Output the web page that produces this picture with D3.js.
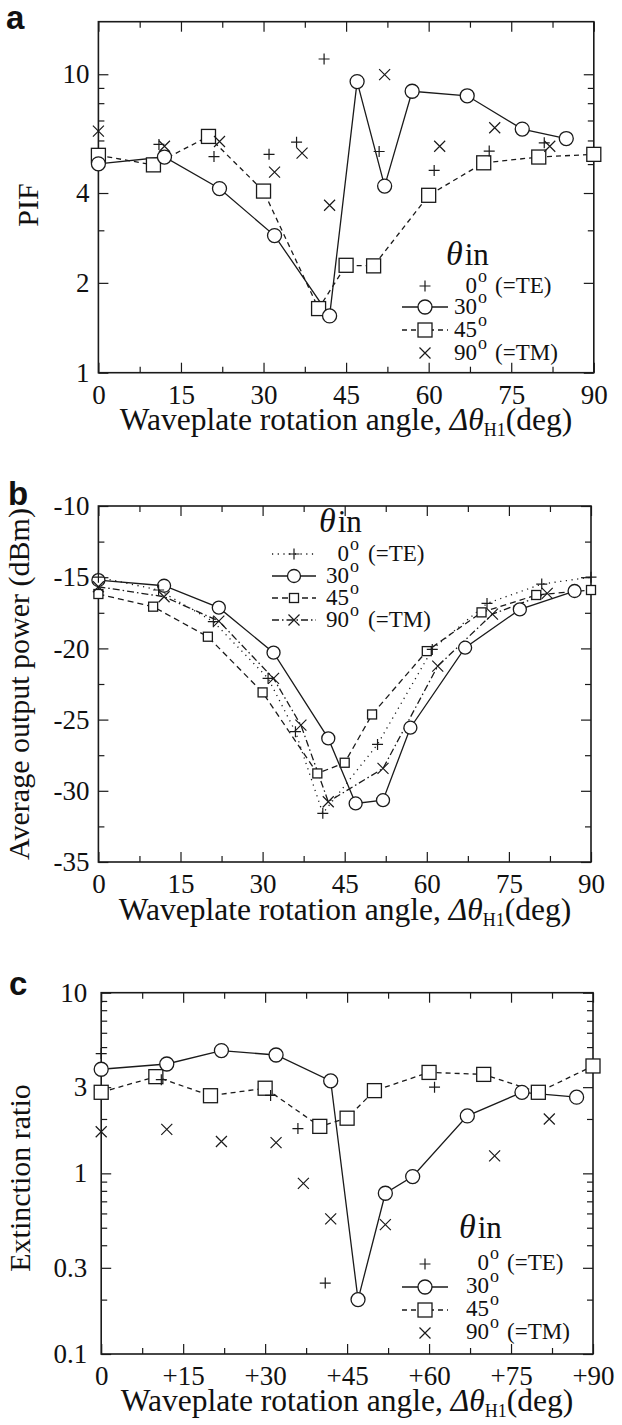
<!DOCTYPE html>
<html><head><meta charset="utf-8">
<script src="https://cdn.jsdelivr.net/npm/d3@7"></script>
<style>
body{margin:0;background:#fff}
svg text{font-family:"Liberation Serif","Times New Roman",serif;fill:#111}
</style>
</head><body><script>
// ---------- DATA ----------
const xMajor = [0,15,30,45,60,75,90];
const xMinor = [7.5,22.5,37.5,52.5,67.5,82.5];
const xLabelsAB = ["0","15","30","45","60","75","90"];
const xLabelsC = ["0","+15","+30","+45","+60","+75","+90"];

const aYMajor = [1,2,4,10];
const aYMinor = [3,5,6,7,8,9];
const aYLabels = ["1","2","4","10"];
const bYMajor = [-35,-30,-25,-20,-15,-10];
const bYMinor = [-32.5,-27.5,-22.5,-17.5,-12.5];
const bYLabels = ["-35","-30","-25","-20","-15","-10"];
const cYMajor = [0.1,0.3,1,3,10];
const cYMinor = [0.2,0.4,0.5,0.6,0.7,0.8,0.9,2,4,5,6,7,8,9];
const cYLabels = ["0.1","0.3","1","3","10"];

const legendNames = ["0","30","45","90"];
const legendSuffix = ["(=TE)","","","(=TM)"];

// Panel a: PIF
const aTE_deg = [11,21,31,36,41,51,61,71,81];
const aTE_val = [5.82,5.30,5.39,5.92,11.25,5.51,4.76,5.53,5.89];
const a30_deg = [0,12,22,32,42,47,52,57,67,77,85];
const a30_val = [5.01,5.28,4.14,2.88,1.55,9.45,4.22,8.77,8.47,6.55,6.09];
const a45_deg = [0,10,20,30,40,45,50,60,70,80,90];
const a45_val = [5.35,4.97,6.19,4.06,1.64,2.29,2.28,3.93,5.05,5.28,5.39];
const aTM_deg = [0,12,22,32,37,42,52,62,72,82];
const aTM_val = [6.45,5.74,5.95,4.70,5.44,3.64,9.97,5.74,6.62,5.74];

// Panel b: average output power (dBm)
const bTE_deg = [0,11,21,31,36,41,51,61,71,81,90];
const bTE_val = [-15.0,-15.9,-18.12,-22.1,-25.85,-31.58,-26.74,-20.07,-16.84,-15.48,-15.0];
const b30_deg = [0,12,22,32,42,47,52,57,67,77,87];
const b30_val = [-15.2,-15.6,-17.14,-20.3,-26.32,-30.89,-30.66,-25.57,-19.95,-17.26,-15.97];
const b45_deg = [0,10,20,30,40,45,50,60,70,80,90];
const b45_val = [-16.18,-17.07,-19.18,-23.09,-28.78,-28.03,-24.64,-20.19,-17.47,-16.25,-15.9];
const bTM_deg = [0,12,22,32,37,42,52,62,72,82];
const bTM_val = [-15.67,-16.37,-18.08,-22.11,-25.39,-30.77,-28.43,-21.24,-17.59,-16.14];

// Panel c: extinction ratio
const cTE_deg = [0,11,31,36,41,61];
const cTE_val = [4.6,3.3,2.70,1.77,0.247,3.0];
const c30_deg = [0,12,22,32,42,47,52,57,67,77,87];
const c30_val = [3.77,4.03,4.78,4.52,3.25,0.20,0.776,0.96,2.08,2.81,2.64];
const c45_deg = [0,10,20,30,40,45,50,60,70,80,90];
const c45_val = [2.81,3.43,2.69,2.96,1.82,2.02,2.87,3.62,3.53,2.81,3.93];
const cTM_deg = [0,12,22,32,37,42,52,72,82];
const cTM_val = [1.70,1.75,1.50,1.48,0.88,0.56,0.52,1.25,2.0];

// ---------- DRAWING ----------
const W = 622, H = 1425;
const svg = d3.select("body").append("svg").attr("width", W).attr("height", H);
const INK = "#1a1a1a";

function plusPath(cx, cy, s){ return `M${cx-s},${cy}H${cx+s}M${cx},${cy-s}V${cy+s}`; }
function crossPath(cx, cy, s){ return `M${cx-s},${cy-s}L${cx+s},${cy+s}M${cx-s},${cy+s}L${cx+s},${cy-s}`; }

function drawAxes(g, x, y, o){
  const [x0,x1] = x.range(), [y0,y1] = y.range();
  const style = sel => sel.call(s=>s.select(".domain").remove())
    .attr("font-size", 27).attr("font-family", '"Liberation Serif","Times New Roman",serif')
    .attr("color", INK).selectAll("line").attr("stroke-width", 1.2);
  g.append("g").attr("transform",`translate(0,${y0})`)
    .call(d3.axisBottom(x).tickValues(xMajor).tickFormat((d,i)=>o.xLabels[i]).tickSizeInner(-10).tickSizeOuter(0).tickPadding(12)).call(style);
  g.append("g").attr("transform",`translate(0,${y0})`)
    .call(d3.axisBottom(x).tickValues(xMinor).tickFormat("").tickSizeInner(-6).tickSizeOuter(0)).call(style);
  g.append("g").attr("transform",`translate(0,${y1})`)
    .call(d3.axisTop(x).tickValues(xMajor).tickFormat("").tickSizeInner(-10).tickSizeOuter(0)).call(style);
  g.append("g").attr("transform",`translate(0,${y1})`)
    .call(d3.axisTop(x).tickValues(xMinor).tickFormat("").tickSizeInner(-6).tickSizeOuter(0)).call(style);
  g.append("g").attr("transform",`translate(${x0},0)`)
    .call(d3.axisLeft(y).tickValues(o.yMajor).tickFormat((d,i)=>o.yLabels[i]).tickSizeInner(-10).tickSizeOuter(0).tickPadding(o.yPad)).call(style);
  g.append("g").attr("transform",`translate(${x0},0)`)
    .call(d3.axisLeft(y).tickValues(o.yMinor).tickFormat("").tickSizeInner(-6).tickSizeOuter(0)).call(style);
  g.append("g").attr("transform",`translate(${x1},0)`)
    .call(d3.axisRight(y).tickValues(o.yMajor).tickFormat("").tickSizeInner(-10).tickSizeOuter(0)).call(style);
  g.append("g").attr("transform",`translate(${x1},0)`)
    .call(d3.axisRight(y).tickValues(o.yMinor).tickFormat("").tickSizeInner(-6).tickSizeOuter(0)).call(style);
  g.append("rect").attr("x",x0).attr("y",y1).attr("width",x1-x0).attr("height",y0-y1)
    .attr("fill","none").attr("stroke",INK).attr("stroke-width",1.6);
}

function drawLine(g, x, y, degs, vals, dash){
  g.append("path").datum(degs.map((d,i)=>[d,vals[i]]))
    .attr("d", d3.line().x(d=>x(d[0])).y(d=>y(d[1])))
    .attr("fill","none").attr("stroke",INK).attr("stroke-width",1.3)
    .attr("stroke-dasharray", dash || null);
}
function drawMarkers(g, x, y, degs, vals, type, size){
  const pts = degs.map((d,i)=>[x(d), y(vals[i])]);
  if(type==="circle"){
    g.selectAll(null).data(pts).join("circle").attr("cx",d=>d[0]).attr("cy",d=>d[1]).attr("r",size)
      .attr("fill","#fff").attr("stroke",INK).attr("stroke-width",1.3);
  } else if(type==="square"){
    g.selectAll(null).data(pts).join("rect").attr("x",d=>d[0]-size).attr("y",d=>d[1]-size)
      .attr("width",2*size).attr("height",2*size)
      .attr("fill","#fff").attr("stroke",INK).attr("stroke-width",1.3);
  } else {
    const f = type==="plus" ? plusPath : crossPath;
    g.selectAll(null).data(pts).join("path").attr("d",d=>f(d[0],d[1],size))
      .attr("fill","none").attr("stroke",INK).attr("stroke-width",1.2);
  }
}

function drawLegend(g, L){
  const t = g.append("text").attr("x",L.thX).attr("y",L.thY);
  t.append("tspan").text("θ").attr("font-style","italic").attr("font-size",34);
  t.append("tspan").text("in").attr("font-size",31).attr("dx",2);
  const types = ["plus","circle","square","cross"];
  types.forEach((tp,i)=>{
    const my = L.rowY[i];
    if(L.lines[i] !== null){
      g.append("line").attr("x1",L.mx-L.half).attr("x2",L.mx+L.half).attr("y1",my).attr("y2",my)
        .attr("stroke",INK).attr("stroke-width",1.3).attr("stroke-dasharray",L.lines[i]||null);
    }
    const sz = L.sizes[i];
    if(tp==="circle") g.append("circle").attr("cx",L.mx).attr("cy",my).attr("r",sz).attr("fill","#fff").attr("stroke",INK).attr("stroke-width",1.3);
    else if(tp==="square") g.append("rect").attr("x",L.mx-sz).attr("y",my-sz).attr("width",2*sz).attr("height",2*sz).attr("fill","#fff").attr("stroke",INK).attr("stroke-width",1.3);
    else g.append("path").attr("d",(tp==="plus"?plusPath:crossPath)(L.mx,my,sz)).attr("fill","none").attr("stroke",INK).attr("stroke-width",1.2);
    const by = my + L.base;
    g.append("text").attr("x",L.numR).attr("y",by).attr("text-anchor","end").attr("font-size",23).text(legendNames[i]);
    g.append("text").attr("x",L.numR+1).attr("y",by-11).attr("font-size",18).text("o");
    if(legendSuffix[i]) g.append("text").attr("x",L.sufX).attr("y",by).attr("font-size",23).text(legendSuffix[i]);
  });
}

function xTitle(g, cx, y){
  const t = g.append("text").attr("x",cx).attr("y",y).attr("text-anchor","middle").attr("font-size",31.5);
  t.append("tspan").text("Waveplate rotation angle, ");
  t.append("tspan").text("Δθ").attr("font-style","italic");
  t.append("tspan").text("H1").attr("font-size",18).attr("dy",6);
  t.append("tspan").text("(deg)").attr("dy",-6);
}
function yTitle(g, x, cy, txt){
  g.append("text").attr("transform",`translate(${x},${cy}) rotate(-90)`).attr("text-anchor","middle")
    .attr("font-size",30).text(txt);
}
function panelLabel(g, x, y, txt){
  g.append("text").attr("x",x).attr("y",y).text(txt)
    .style("font-family",'"Liberation Sans",Arial,sans-serif').attr("font-weight","bold").attr("font-size",33);
}

// ----- Panel a -----
{
  const g = svg.append("g");
  const x = d3.scaleLinear().domain([0,90]).range([98.4,593.8]);
  const y = d3.scaleLog().domain([1,15]).range([372.7,21.7]);
  drawAxes(g,x,y,{xLabels:xLabelsAB,yMajor:aYMajor,yMinor:aYMinor,yLabels:aYLabels,yPad:9});
  drawLine(g,x,y,a45_deg,a45_val,"5,4");
  drawLine(g,x,y,a30_deg,a30_val,null);
  drawMarkers(g,x,y,a45_deg,a45_val,"square",7);
  drawMarkers(g,x,y,a30_deg,a30_val,"circle",7);
  drawMarkers(g,x,y,aTE_deg,aTE_val,"plus",5.5);
  drawMarkers(g,x,y,aTM_deg,aTM_val,"cross",5.5);
  drawLegend(g,{thX:446,thY:265,mx:425,half:23,rowY:[286,307,330,353],base:7,
    lines:[null,"", "5,4", null],sizes:[5.5,7,7,5.5],numR:477,sufX:495});
  xTitle(g,346,430);
  yTitle(g,38,205,"PIF");
  panelLabel(g,6,29,"a");
}
// ----- Panel b -----
{
  const g = svg.append("g");
  const x = d3.scaleLinear().domain([0,90]).range([98.4,591]);
  const y = d3.scaleLinear().domain([-35,-10]).range([862,506]);
  drawAxes(g,x,y,{xLabels:xLabelsAB,yMajor:bYMajor,yMinor:bYMinor,yLabels:bYLabels,yPad:9});
  drawLine(g,x,y,bTE_deg,bTE_val,"1.2,4.5");
  drawLine(g,x,y,b45_deg,b45_val,"6,4");
  drawLine(g,x,y,bTM_deg,bTM_val,"7,3,1.5,3");
  drawLine(g,x,y,b30_deg,b30_val,null);
  drawMarkers(g,x,y,b45_deg,b45_val,"square",4.5);
  drawMarkers(g,x,y,b30_deg,b30_val,"circle",6.5);
  drawMarkers(g,x,y,bTE_deg,bTE_val,"plus",5.5);
  drawMarkers(g,x,y,bTM_deg,bTM_val,"cross",5.5);
  drawLegend(g,{thX:319,thY:532,mx:294,half:22,rowY:[554,576,598,620],base:7,
    lines:["1.2,4.5","","6,4","7,3,1.5,3"],sizes:[5.5,6.5,4.5,5.5],numR:349,sufX:368});
  xTitle(g,345,920);
  yTitle(g,29,684,"Average output power (dBm)");
  panelLabel(g,8,505,"b");
}
// ----- Panel c -----
{
  const g = svg.append("g");
  const x = d3.scaleLinear().domain([0,90]).range([101.2,593]);
  const y = d3.scaleLog().domain([0.1,10]).range([1354,992.7]);
  drawAxes(g,x,y,{xLabels:xLabelsC,yMajor:cYMajor,yMinor:cYMinor,yLabels:cYLabels,yPad:14});
  drawLine(g,x,y,c45_deg,c45_val,"5,4");
  drawLine(g,x,y,c30_deg,c30_val,null);
  drawMarkers(g,x,y,c45_deg,c45_val,"square",7);
  drawMarkers(g,x,y,c30_deg,c30_val,"circle",7);
  drawMarkers(g,x,y,cTE_deg,cTE_val,"plus",5.5);
  drawMarkers(g,x,y,cTM_deg,cTM_val,"cross",5.5);
  drawLegend(g,{thX:459,thY:1238,mx:425,half:23,rowY:[1264,1287,1310,1333],base:6,
    lines:[null,"","5,4",null],sizes:[5.5,7,7,5.5],numR:489,sufX:507});
  xTitle(g,347,1411);
  yTitle(g,30,1178,"Extinction ratio");
  panelLabel(g,9,995,"c");
}
</script></body></html>
